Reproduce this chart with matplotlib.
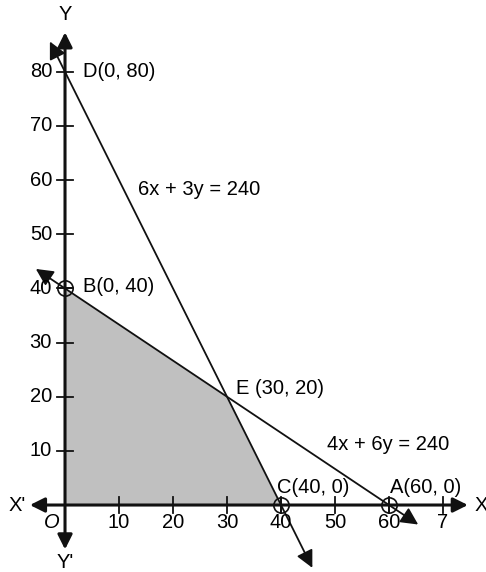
import numpy as np
import matplotlib
matplotlib.use("Agg")
import matplotlib.pyplot as plt

plt.rcParams['font.family'] = ['Liberation Sans', 'DejaVu Sans']

# region realisable et points
region_x = [0, 0, 30, 40]
region_y = [0, 40, 20, 0]
points_x = [0, 40, 60]          # B, C, A (cercles)
points_y = [40, 0, 0]

# droites 6x + 3y = 240 et 4x + 6y = 240 (etendue des fleches)
l1_x = [-2.8, 45.8]
l1_y = [80 - 2 * x for x in l1_x]
l2_x = [-5.4, 65.4]
l2_y = [40 - 2 * x / 3 for x in l2_x]

xticks = [10, 20, 30, 40, 50, 60, 70]
xtick_labels = ['10', '20', '30', '40', '50', '60', '7']
yticks = [10, 20, 30, 40, 50, 60, 70, 80]

fig = plt.figure(figsize=(4.86, 5.72), dpi=100)
ax = fig.add_axes([0, 0, 1, 1])
ax.set_xlim(-12.04, 77.96)
ax.set_ylim(-12.37, 93.27)
ax.axis('off')

fs = 14.5

# zone grise
ax.fill(region_x, region_y, color='#c0c0c0', lw=0, zorder=1)

# axes avec fleches
arr = dict(arrowstyle='<|-|>', mutation_scale=22, lw=2.2, color='#111111',
           shrinkA=0, shrinkB=0)
ax.annotate('', xy=(74.6, 0), xytext=(-6.5, 0), arrowprops=arr, zorder=3)
ax.annotate('', xy=(0, 87.3), xytext=(0, -8.2), arrowprops=arr, zorder=3)

# droites
arr2 = dict(arrowstyle='<|-|>', mutation_scale=26, lw=1.3, color='#111111',
            shrinkA=0, shrinkB=0)
ax.annotate('', xy=(l1_x[1], l1_y[1]), xytext=(l1_x[0], l1_y[0]),
            arrowprops=arr2, zorder=2)
ax.annotate('', xy=(l2_x[1], l2_y[1]), xytext=(l2_x[0], l2_y[0]),
            arrowprops=arr2, zorder=2)

# graduations
for t, lab in zip(xticks, xtick_labels):
    ax.plot([t, t], [-1.4, 1.4], color='#111111', lw=1.3, zorder=3)
    ax.text(t, -3.3, lab, ha='center', va='center', fontsize=fs)
for t in yticks:
    ax.plot([-1.5, 1.5], [t, t], color='#111111', lw=1.3, zorder=3)
    ax.text(-2.4, t, str(t), ha='right', va='center', fontsize=fs)

# points entoures
ax.plot(points_x, points_y, 'o', ms=11, mfc='none', mec='#111111', mew=1.2, zorder=4)
ax.plot(points_x, points_y, '+', ms=11, mec='#111111', mew=1.2, zorder=4)

# etiquettes
ax.text(0, 90.5, 'Y', ha='center', va='center', fontsize=fs)
ax.text(0, -10.7, "Y'", ha='center', va='center', fontsize=fs)
ax.text(-8.9, 0, "X'", ha='center', va='center', fontsize=fs)
ax.text(75.8, 0, 'X', ha='left', va='center', fontsize=fs)
ax.text(-2.4, -3.3, 'O', ha='center', va='center', fontsize=fs, style='italic')
ax.text(3.3, 80, 'D(0, 80)', ha='left', va='center', fontsize=fs)
ax.text(3.3, 40.3, 'B(0, 40)', ha='left', va='center', fontsize=fs)
ax.text(31.7, 21.6, 'E (30, 20)', ha='left', va='center', fontsize=fs)
ax.text(39.2, 3.3, 'C(40, 0)', ha='left', va='center', fontsize=fs)
ax.text(60.2, 3.3, 'A(60, 0)', ha='left', va='center', fontsize=fs)
ax.text(13.5, 58.2, '6x + 3y = 240', ha='left', va='center', fontsize=fs)
ax.text(48.5, 11.1, '4x + 6y = 240', ha='left', va='center', fontsize=fs)

fig.savefig('out.png', dpi=100)
